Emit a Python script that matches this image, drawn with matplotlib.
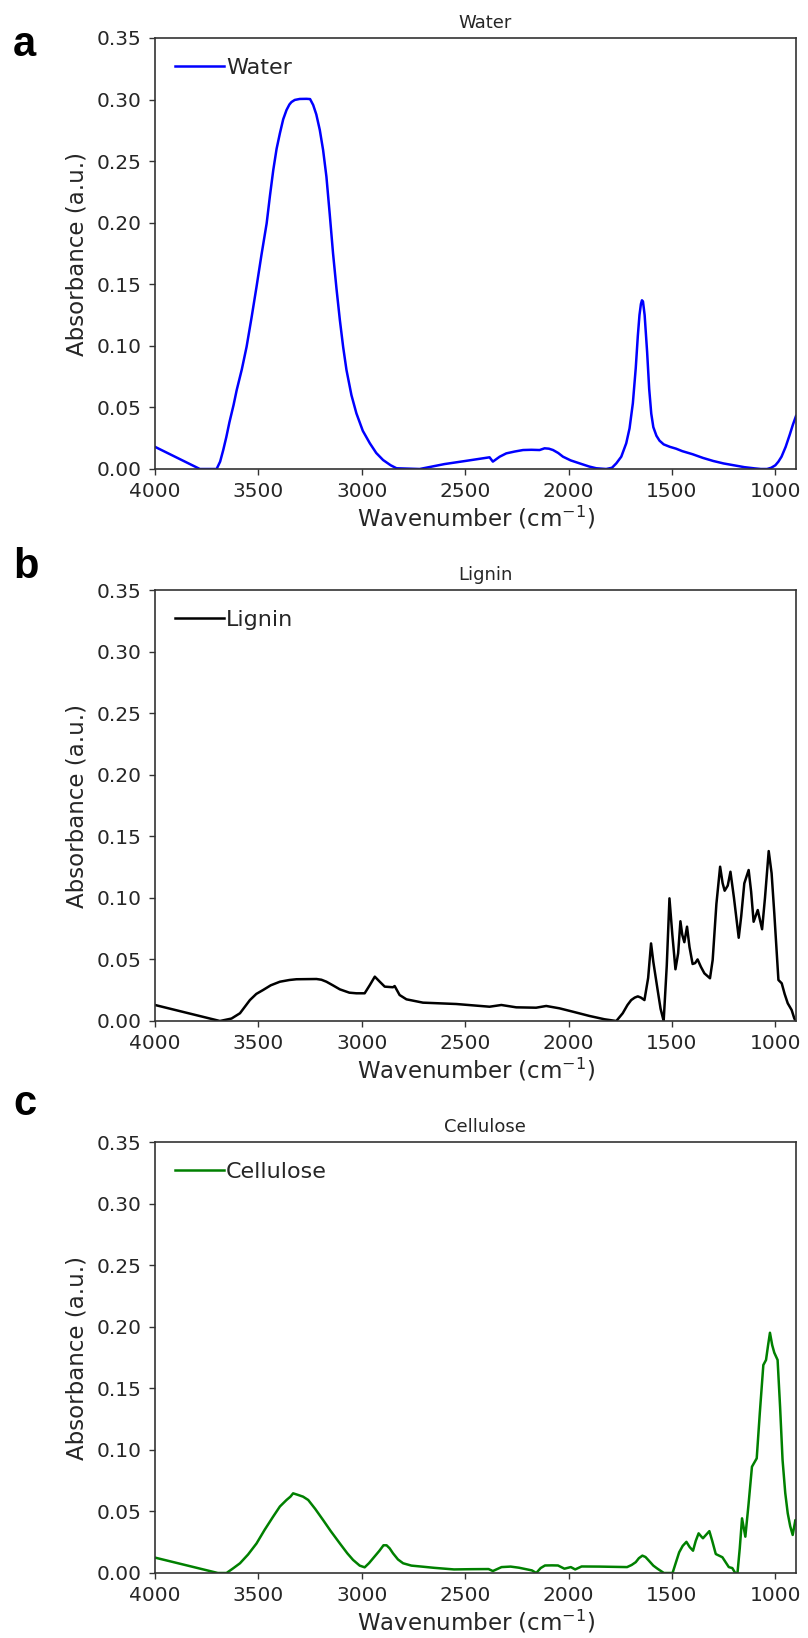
import numpy as np
import matplotlib
matplotlib.use('Agg')
import matplotlib.pyplot as plt

# FTIR spectra (wavenumber in cm-1, absorbance in a.u.)
water_wn = [4000, 3783, 3702, 3685, 3670, 3655, 3640, 3620, 3605, 3580, 3557, 3533, 3509,
            3485, 3460, 3444, 3428, 3412, 3396, 3380, 3364, 3350, 3340, 3324, 3300, 3267,
            3250, 3235, 3220, 3203, 3187, 3171, 3155, 3139, 3122, 3106, 3090, 3074, 3050,
            3026, 2995, 2961, 2930, 2897, 2860, 2832, 2720, 2600, 2500, 2382, 2366, 2333,
            2301, 2260, 2220, 2180, 2140, 2116, 2095, 2075, 2050, 2027, 1990, 1947, 1900,
            1866, 1818, 1790, 1769, 1745, 1721, 1705, 1689, 1675, 1665, 1657, 1650, 1645,
            1640, 1632, 1620, 1610, 1600, 1590, 1575, 1560, 1540, 1510, 1480, 1450, 1400,
            1350, 1300, 1250, 1200, 1150, 1100, 1070, 1040, 1020, 1000, 985, 970, 950, 930,
            915, 900]
water_abs = [0.018, 0.0, 0.0, 0.006, 0.0154, 0.026, 0.038, 0.052, 0.064, 0.081, 0.0993, 0.123, 0.148,
             0.174, 0.1995, 0.222, 0.2428, 0.260, 0.2726, 0.284, 0.2915, 0.296, 0.298, 0.2997, 0.3005, 0.3006,
             0.3004, 0.2956, 0.288, 0.2753, 0.259, 0.2374, 0.207, 0.1752, 0.146, 0.121, 0.099, 0.0804, 0.060,
             0.0452, 0.031, 0.0209, 0.013, 0.0073, 0.003, 0.0006, 0.0, 0.004, 0.0065, 0.0095, 0.006, 0.010,
             0.0127, 0.0142, 0.0154, 0.0156, 0.0154, 0.0168, 0.0165, 0.0154, 0.013, 0.010, 0.007, 0.0046, 0.002,
             0.0006, 0.0, 0.001, 0.0046, 0.010, 0.0209, 0.033, 0.0534, 0.082, 0.108, 0.125, 0.134, 0.137,
             0.136, 0.125, 0.095, 0.065, 0.045, 0.034, 0.027, 0.023, 0.020, 0.018, 0.0165, 0.0145, 0.012,
             0.009, 0.0065, 0.0045, 0.003, 0.0015, 0.0005, 0.0, 0.0, 0.001, 0.003, 0.006, 0.010, 0.018, 0.028,
             0.036, 0.043]

lignin_wn = [4000, 3686, 3630, 3589, 3541, 3510, 3477, 3440, 3396, 3350, 3316, 3270, 3219,
             3195, 3171, 3140, 3106, 3060, 3026, 2986, 2961, 2937, 2913, 2889, 2849, 2841,
             2817, 2784, 2704, 2543, 2382, 2325, 2253, 2157, 2108, 2044, 1980, 1899, 1826,
             1769, 1738, 1715, 1697, 1680, 1665, 1650, 1633, 1615, 1601, 1590, 1569, 1555,
             1540, 1525, 1512, 1498, 1483, 1470, 1459, 1450, 1440, 1427, 1415, 1400, 1388,
             1376, 1360, 1343, 1316, 1303, 1285, 1267, 1255, 1245, 1230, 1217, 1200, 1177,
             1165, 1150, 1129, 1117, 1105, 1085, 1064, 1050, 1032, 1018, 1005, 985, 969,
             955, 940, 921, 908, 900]
lignin_abs = [0.013, 0.0, 0.002, 0.0063, 0.017, 0.022, 0.0252, 0.029, 0.0319, 0.0333, 0.0339, 0.034, 0.0341,
              0.0335, 0.0319, 0.029, 0.0257, 0.023, 0.0225, 0.0225, 0.0292, 0.036, 0.0319, 0.0279, 0.0274, 0.0284,
              0.0211, 0.0176, 0.0149, 0.0138, 0.0116, 0.013, 0.0111, 0.0108, 0.0122, 0.0103, 0.0076, 0.0041, 0.0014,
              0.0, 0.0063, 0.013, 0.017, 0.019, 0.020, 0.019, 0.017, 0.035, 0.063, 0.048, 0.025, 0.010,
              0.0, 0.045, 0.0996, 0.070, 0.042, 0.055, 0.081, 0.070, 0.064, 0.0766, 0.060, 0.0463, 0.047,
              0.050, 0.044, 0.0387, 0.0347, 0.0495, 0.095, 0.1253, 0.112, 0.1058, 0.110, 0.1212, 0.100, 0.0676,
              0.085, 0.1118, 0.1226, 0.105, 0.0806, 0.0901, 0.0745, 0.100, 0.138, 0.120, 0.0875, 0.0333, 0.0306,
              0.022, 0.0144, 0.0089, 0.002, 0.0]

cellulose_wn = [4000, 3696, 3654, 3622, 3589, 3550, 3509, 3470, 3429, 3396, 3364, 3345, 3332,
                3310, 3284, 3259, 3225, 3187, 3150, 3106, 3070, 3042, 3010, 2986, 2965, 2945,
                2915, 2895, 2880, 2865, 2849, 2825, 2800, 2760, 2704, 2650, 2554, 2470, 2387,
                2366, 2324, 2280, 2240, 2177, 2156, 2135, 2114, 2080, 2051, 2020, 1989, 1968,
                1937, 1850, 1750, 1717, 1695, 1675, 1660, 1643, 1628, 1612, 1590, 1570, 1539,
                1497, 1480, 1465, 1448, 1430, 1414, 1398, 1385, 1371, 1360, 1350, 1335, 1319,
                1305, 1288, 1256, 1225, 1208, 1194, 1183, 1172, 1161, 1145, 1130, 1113, 1090,
                1075, 1058, 1045, 1035, 1026, 1015, 1005, 989, 977, 965, 952, 940, 928, 916,
                903, 900]
cellulose_abs = [0.0125, 0.0, 0.0, 0.0038, 0.0079, 0.015, 0.024, 0.035, 0.0457, 0.054, 0.0593, 0.062, 0.0647,
                 0.0635, 0.062, 0.0593, 0.052, 0.043, 0.034, 0.024, 0.016, 0.0106, 0.006, 0.0046, 0.008, 0.012,
                 0.018, 0.0225, 0.0225, 0.020, 0.016, 0.011, 0.0079, 0.006, 0.0051, 0.0042, 0.0029, 0.0031, 0.0032,
                 0.0016, 0.0048, 0.0052, 0.0043, 0.0021, 0.0, 0.004, 0.0061, 0.0062, 0.0061, 0.0035, 0.0048, 0.0029,
                 0.0053, 0.0052, 0.0049, 0.0048, 0.0065, 0.0088, 0.012, 0.0141, 0.013, 0.0101, 0.006, 0.0035, 0.0,
                 0.0, 0.009, 0.0168, 0.022, 0.0253, 0.021, 0.0181, 0.026, 0.0322, 0.030, 0.0282, 0.031, 0.034,
                 0.026, 0.0154, 0.0128, 0.0048, 0.004, 0.0, 0.0, 0.020, 0.0444, 0.0295, 0.055, 0.0863, 0.0931,
                 0.130, 0.1689, 0.173, 0.185, 0.1951, 0.185, 0.1789, 0.173, 0.135, 0.0918, 0.065, 0.0485, 0.038, 0.0309,
                 0.043, 0.040]

titles = ['Water', 'Lignin', 'Cellulose']
colors = ['b', 'k', 'g']
letters = ['a', 'b', 'c']
yticks = [0.00, 0.05, 0.10, 0.15, 0.20, 0.25, 0.30, 0.35]
xticks = [4000, 3500, 3000, 2500, 2000, 1500, 1000]

spectra = [(water_wn, water_abs), (lignin_wn, lignin_abs), (cellulose_wn, cellulose_abs)]

plt.rcParams['font.family'] = ['DejaVu Sans']
plt.rcParams['text.color'] = '#262626'
plt.rcParams['axes.labelcolor'] = '#262626'
plt.rcParams['xtick.color'] = '#262626'
plt.rcParams['ytick.color'] = '#262626'

W, H = 808, 1638
fig = plt.figure(figsize=(W / 100, H / 100), dpi=100)

left, right = 155, 796
bottoms = [469, 1021, 1573]
ax_h = 431
letter_y = [56, 578, 1115]

for i, (wn, ab) in enumerate(spectra):
    ax = fig.add_axes([left / W, (H - bottoms[i]) / H, (right - left) / W, ax_h / H])
    ax.plot(wn, ab, '-', color=colors[i], lw=1.8, label=titles[i])
    ax.set_xlim(4000, 900)
    ax.set_ylim(0, 0.35)
    ax.set_xticks(xticks)
    ax.set_yticks(yticks)
    ax.set_yticklabels(['%.2f' % t for t in yticks])
    ax.tick_params(labelsize=14.5, length=4.5, width=1, pad=5, color='#333333')
    for s in ax.spines.values():
        s.set_color('#333333')
        s.set_linewidth(1.2)
    ax.set_title(titles[i], fontsize=13, pad=7, x=0.515)
    ax.set_xlabel('Wavenumber (cm$^{-1}$)', fontsize=16.5, labelpad=2)
    ax.set_ylabel('Absorbance (a.u.)', fontsize=16.5, labelpad=6)
    ax.legend(loc='upper left', frameon=False, fontsize=16, handlelength=2.2,
              handletextpad=0.1)
    fig.text(13 / W, 1 - letter_y[i] / H, letters[i], fontsize=30, fontweight='bold',
             family=['Liberation Sans', 'DejaVu Sans'], va='baseline', ha='left', color='black')

fig.savefig('out.png', dpi=100)
